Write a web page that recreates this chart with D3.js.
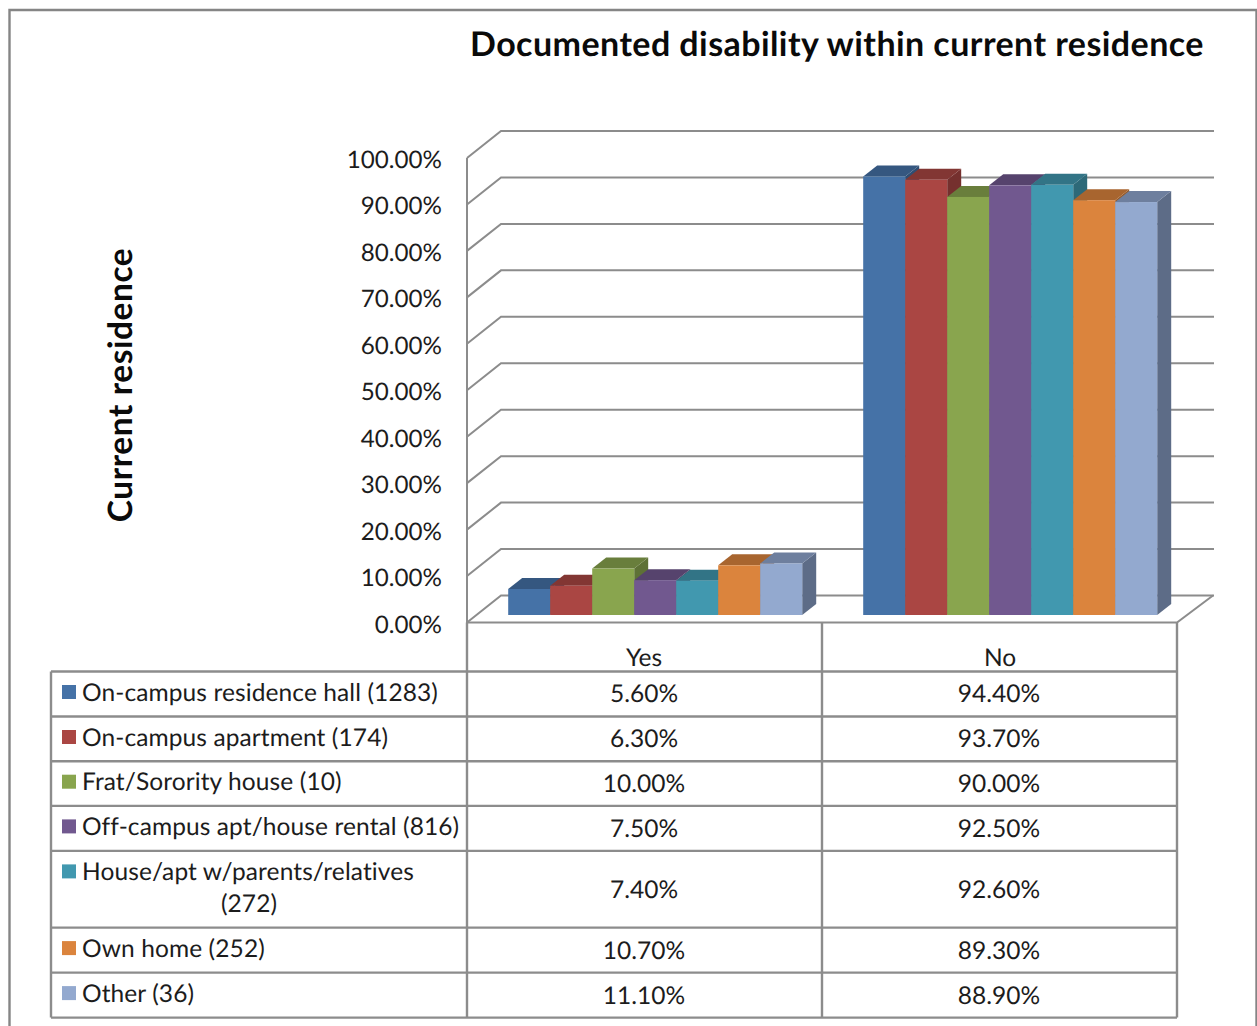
<!DOCTYPE html>
<html>
<head>
<meta charset="utf-8">
<script src="https://cdn.jsdelivr.net/npm/d3@7/dist/d3.min.js"></script>
<style>
  html, body { margin: 0; padding: 0; background: #fff; overflow: hidden; }
  svg { display: block; }
  text { font-family: Lato, "Open Sans", sans-serif; fill: #1c1c1c; text-rendering: geometricPrecision; }
</style>
</head>
<body>
<svg id="chart" width="1257" height="1026"></svg>
<script>
// Survey results, in percent
const categories = ["Yes", "No"];
const seriesNames = [
  ["On-campus residence hall (1283)"],
  ["On-campus apartment (174)"],
  ["Frat/Sorority house (10)"],
  ["Off-campus apt/house rental (816)"],
  ["House/apt w/parents/relatives", "(272)"],
  ["Own home (252)"],
  ["Other (36)"]
];
const yesValues = [5.6, 6.3, 10.0, 7.5, 7.4, 10.7, 11.1];
const noValues = [94.4, 93.7, 90.0, 92.5, 92.6, 89.3, 88.9];
const seriesColors = ["#4572a7", "#aa4643", "#89a54e", "#71588f", "#4198af", "#db843d", "#93a9cf"];
const yTicks = [0, 10, 20, 30, 40, 50, 60, 70, 80, 90, 100];
const titleText = "Documented disability within current residence";
const yAxisTitle = "Current residence";

const fmt = v => v.toFixed(2) + "%";
const GRID = "#8c8c8c";
const svg = d3.select("#chart");

// Outer frame of the chart area
svg.append("path")
  .attr("d", "M9.5,1026V10H1256.5V1026")
  .attr("fill", "none").attr("stroke", "#858585").attr("stroke-width", 2.4);

// Plot geometry: front wall edge, back wall offset, and bar depth
const wallLeft = 467, wallRight = 1177;
const wallDepth = { x: 34, y: -27 };
const barDepth = { x: 14, y: -11 };
const yFront = d3.scaleLinear().domain([0, 100]).range([622.5, 158]);
const yBar = d3.scaleLinear().domain([0, 100]).range([615, 150.5]);

// Walls and gridlines
const grid = svg.append("g").attr("fill", "none").attr("stroke", GRID).attr("stroke-width", 2);
yTicks.forEach(t => {
  const y = yFront(t);
  grid.append("path").attr("d",
    `M${wallLeft},${y}L${wallLeft + wallDepth.x},${y + wallDepth.y}H${wallRight + wallDepth.x + 3}`);
});
grid.append("path").attr("d",
  `M${wallLeft},${yFront(100)}V${yFront(0)}H${wallRight}L${wallRight + wallDepth.x + 2},${yFront(0) + wallDepth.y}`);

// Value axis labels
const axis = d3.axisLeft(yFront).tickValues(yTicks).tickFormat(fmt).tickSize(0).tickPadding(0);
const axisG = svg.append("g").attr("transform", "translate(442,0.8)").call(axis);
axisG.select(".domain").remove();
axisG.selectAll("text").style("font-size", "24.2px").attr("dy", "0.36em");

// Bars: each cluster is seven boxes side by side, painted left to right
const xCluster = d3.scaleBand().domain(categories).range([wallLeft, wallRight]).paddingInner(0).paddingOuter(0);
const barW = 42;
const clusterShift = 10.7;
const clusterValues = { Yes: yesValues, No: noValues };
const shade = (c, k) => d3.rgb(c).darker(k).formatHex();

categories.forEach(cat => {
  const start = xCluster(cat) + (xCluster.bandwidth() - barW * 7) / 2 + clusterShift;
  const g = svg.append("g");
  clusterValues[cat].forEach((v, i) => {
    const x0 = start + i * barW, x1 = x0 + barW;
    const yt = yBar(v), yb = yBar(0);
    const dx = barDepth.x, dy = barDepth.y;
    g.append("path")
      .attr("d", `M${x1},${yt}L${x1 + dx},${yt + dy}V${yb + dy}L${x1},${yb}Z`)
      .attr("fill", i === 6 ? "#5d6c87" : shade(seriesColors[i], 1.05));
    g.append("path")
      .attr("d", `M${x0},${yt}L${x0 + dx},${yt + dy}H${x1 + dx}L${x1},${yt}Z`)
      .attr("fill", i === 6 ? "#6e7f9e" : shade(seriesColors[i], 0.75));
    g.append("rect")
      .attr("x", x0).attr("y", yt).attr("width", barW).attr("height", yb - yt)
      .attr("fill", seriesColors[i]);
  });
});

// Data table beneath the plot
const tableLeft = 51, tableLabelRight = 467, tableSplit = 822, tableRight = 1177;
const headerTop = 622.5, headerBottom = 671.5;
const rowHeights = [45, 44.7, 44.7, 45, 76.7, 45, 45];
const rowEdges = rowHeights.reduce((a, h) => (a.push(a[a.length - 1] + h), a), [headerBottom]);
const table = svg.append("g").attr("stroke", GRID).attr("stroke-width", 2.4).attr("fill", "none");
rowEdges.forEach(y => table.append("line").attr("x1", tableLeft).attr("x2", tableRight).attr("y1", y).attr("y2", y));
const tableBottom = rowEdges[rowEdges.length - 1];
table.append("line").attr("x1", tableLeft).attr("x2", tableLeft).attr("y1", headerBottom).attr("y2", tableBottom);
[tableLabelRight, tableSplit, tableRight].forEach(x =>
  table.append("line").attr("x1", x).attr("x2", x).attr("y1", headerTop).attr("y2", tableBottom));

// Column headers
const colCenter = { Yes: 644, No: 1000 };
categories.forEach(cat => {
  svg.append("text").attr("x", colCenter[cat]).attr("y", 666)
    .attr("text-anchor", "middle").style("font-size", "24.5px").text(cat);
});

// Row labels with colour keys, and cell values
seriesNames.forEach((lines, i) => {
  const top = rowEdges[i], h = rowHeights[i];
  svg.append("rect").attr("x", 62).attr("y", top + 13.5).attr("width", 14).attr("height", 14)
    .attr("fill", seriesColors[i]);
  lines.forEach((line, j) => {
    const t = svg.append("text").attr("y", top + 29 + j * 32)
      .style("font-size", "24.5px").style("letter-spacing", "0.1px").text(line);
    if (j === 0) t.attr("x", 82);
    else t.attr("x", 249).attr("text-anchor", "middle");
  });
  const cy = top + h / 2 + 8.4;
  svg.append("text").attr("x", 644).attr("y", cy).attr("text-anchor", "middle")
    .style("font-size", "24.5px").text(yesValues[i].toFixed(2) + "%");
  svg.append("text").attr("x", 999).attr("y", cy).attr("text-anchor", "middle")
    .style("font-size", "24.5px").text(noValues[i].toFixed(2) + "%");
});

// Titles
svg.append("text").attr("x", 837).attr("y", 56).attr("text-anchor", "middle")
  .style("font-size", "34px").style("font-weight", 700).style("letter-spacing", "0.43px")
  .style("fill", "#0a0a0a").text(titleText);
svg.append("text").attr("transform", "translate(132,385) rotate(-90)").attr("text-anchor", "middle")
  .style("font-size", "33.5px").style("font-weight", 700).style("letter-spacing", "0.55px")
  .style("fill", "#0a0a0a").text(yAxisTitle);
</script>
</body>
</html>
